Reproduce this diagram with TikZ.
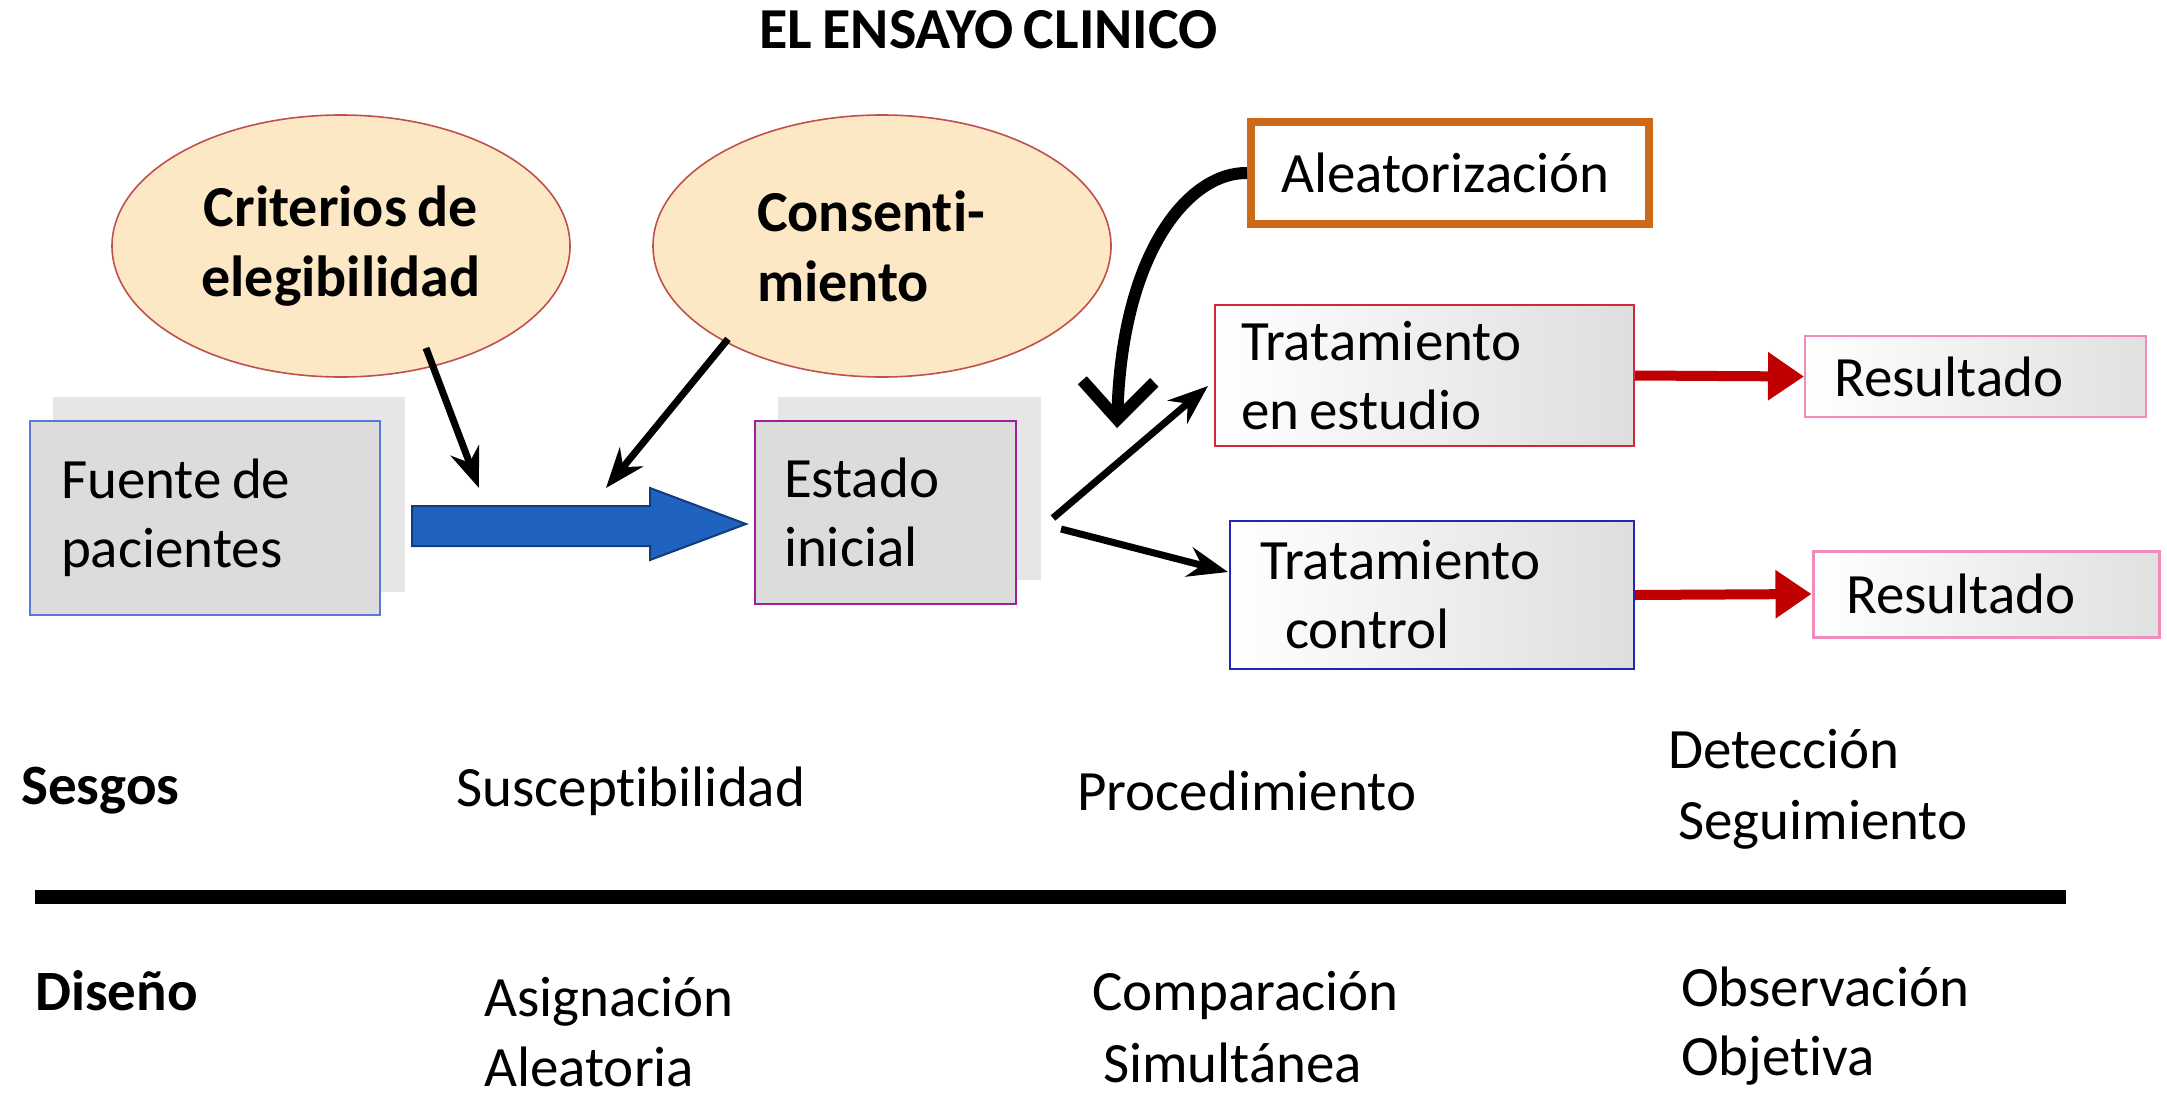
\documentclass[tikz,border=0pt]{standalone}
\usepackage{fontspec}
\setmainfont[WordSpace=0.8,Ligatures=NoCommon]{Carlito}
\usetikzlibrary{arrows.meta,shapes.geometric,calc}
\definecolor{peach}{HTML}{FCE8C4}
\definecolor{ellred}{HTML}{C0504D}
\definecolor{boxgray}{HTML}{DCDCDC}
\definecolor{shadowgray}{HTML}{E6E6E6}
\definecolor{fblue}{HTML}{5A78D8}
\definecolor{epurple}{HTML}{A0209A}
\definecolor{tred}{HTML}{D02838}
\definecolor{tnavy}{HTML}{2424B8}
\definecolor{rpink}{HTML}{F08CBC}
\definecolor{aorange}{HTML}{CC6A1A}
\definecolor{arrred}{HTML}{C00000}
\definecolor{bfill}{HTML}{1F62C0}
\definecolor{bdraw}{HTML}{123C7A}
\begin{document}
\begin{tikzpicture}[x=1pt,y=-1pt]
\tikzset{
  base/.style={font=\fontsize{57}{69}\selectfont},
  bx/.style={base, rectangle, draw, align=flush left, inner ysep=0pt, line width=2pt},
  ell/.style={ellipse, draw=ellred, line width=1.6pt, fill=peach, minimum width=458pt,
              minimum height=262pt, inner sep=0pt, font=\fontsize{58}{70}\selectfont\bfseries},
  blk/.style={-{Stealth[length=40pt,width=30pt]}, line width=7pt},
  redarr/.style={-{Triangle[length=36pt,width=46pt]}, line width=10pt, draw=arrred},
  lab/.style={base, anchor=base west, inner sep=0pt},
  blab/.style={lab, font=\fontsize{57}{69}\selectfont\bfseries},
}
\useasboundingbox (0,0) rectangle (2167,1098);
\fill[white] (0,0) rectangle (2167,1098);

% title
\node[anchor=base west, inner sep=0pt, font=\fontsize{58}{68}\selectfont\bfseries] (title) at (759,48) {EL ENSAYO CLINICO};

% ellipses
\node[ell, align=center] (crit) at (341,246) {Criterios de\\elegibilidad};
\node[ell, align=flush left, text width=250pt] (cons) at (882,246) {Consenti-\\miento};

% shadows
\fill[shadowgray] (53,397) rectangle (405,592);
\fill[shadowgray] (778,397) rectangle (1041,580);

% boxes
\node[bx, draw=fblue, fill=boxgray, inner xsep=31pt, text width=288pt, minimum height=194pt] (fuente) at (205,518) {Fuente de\\pacientes};
\node[bx, draw=epurple, fill=boxgray, inner xsep=29pt, text width=203pt, minimum height=183pt] (estado) at (885.5,512.5) {Estado\\inicial};
\node[bx, draw=aorange, fill=white, line width=8pt, inner xsep=30pt, text width=338pt, minimum height=102pt] (aleat) at (1450,173) {Aleatorización};
\node[bx, draw=tred, left color=white, right color=black!13, inner xsep=26pt, text width=367pt, minimum height=141pt] (trate) at (1424.5,375.5) {Tratamiento\\en estudio};
\node[bx, draw=tnavy, left color=white, right color=black!13, inner xsep=30pt, text width=344pt, minimum height=148pt] (tratc) at (1432,595) {Tratamiento\\\hspace*{25pt}control};
\node[bx, draw=rpink, left color=white, right color=black!12, inner xsep=29pt, text width=283pt, minimum height=81pt] (res1) at (1975.5,376.5) {Resultado};
\node[bx, draw=rpink, left color=white, right color=black!12, line width=3pt, inner xsep=33pt, text width=280pt, minimum height=86pt] (res2) at (1986,594) {Resultado};

% blue block arrow
\coordinate (ba1) at (412,526);
\coordinate (ba2) at (746,524);
\filldraw[fill=bfill, draw=bdraw, line width=2pt]
  (412,506) -- (650,506) -- (650,488) -- (ba2) -- (650,560) -- (650,546) -- (412,546) -- cycle;

% black arrows
\coordinate (c1s) at (426,348);
\coordinate (c1e) at (479,488);
\coordinate (c2s) at (728,339);
\coordinate (c2e) at (606,488);
\coordinate (d1s) at (1053,518);
\coordinate (d1e) at (1208,386);
\coordinate (d2s) at (1061,529);
\coordinate (d2e) at (1228,572);
\coordinate (ce) at (1117,428);
\draw[blk] (c1s) -- (c1e);
\draw[blk] (c2s) -- (c2e);
\draw[blk] (d1s) -- (d1e);
\draw[blk] (d2s) -- (d2e);
\draw[line width=12pt, -{Straight Barb[length=38pt,width=72pt]}]
  (aleat.west) .. controls (1190,172) and (1122,250) .. (ce);

% red arrows
\draw[redarr] (trate.east) -- (res1.west);
\draw[redarr] (tratc.east) -- (res2.west);

% bottom
\node[blab] (sesgos) at (21,804) {Sesgos};
\node[lab] (susc) at (456,806) {Susceptibilidad};
\node[lab] (proc) at (1077,810) {Procedimiento};
\node[lab] (detec) at (1668,768) {Detección};
\node[lab] (segui) at (1678,839) {Seguimiento};
\coordinate (ls) at (35,897);
\coordinate (le) at (2066,897);
\draw[line width=14pt] (ls) -- (le);
\node[blab] (diseno) at (35,1010) {Diseño};
\node[lab] (asig) at (484,1016) {Asignación};
\node[lab] (aleatoria) at (484,1086) {Aleatoria};
\node[lab] (comp) at (1092,1010) {Comparación};
\node[lab] (simul) at (1103,1082) {Simultánea};
\node[lab] (obs) at (1681,1006) {Observación};
\node[lab] (obj) at (1681,1075) {Objetiva};
\end{tikzpicture}
\end{document}
